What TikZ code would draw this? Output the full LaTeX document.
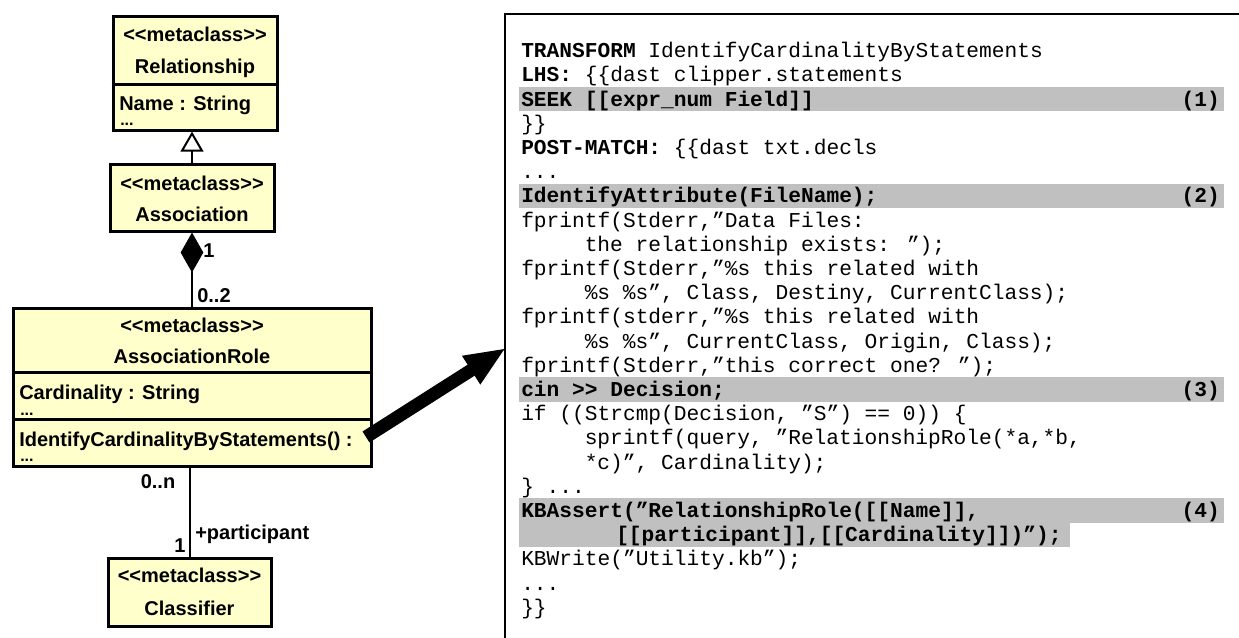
\documentclass[tikz,border=0pt]{standalone}
\usepackage{fontspec}
\setmainfont{Liberation Sans}
\newfontfamily\codefont{Liberation Mono}
\usetikzlibrary{arrows.meta}
\definecolor{umlyellow}{RGB}{255,255,204}
\definecolor{markgray}{RGB}{192,192,192}

\begin{document}
\begin{tikzpicture}[x=0.75pt,y=-0.75pt,
	umlbox/.style={draw,line width=2.25pt,fill=umlyellow,inner sep=0pt},
	umltxt/.style={inner sep=0pt,anchor=base,font=\fontsize{15}{18}\selectfont\bfseries},
	umlleft/.style={umltxt,anchor=base west},
	umldots/.style={inner sep=0pt,anchor=base west,font=\fontsize{12}{14}\selectfont\bfseries},
	compart/.style={line width=2.25pt},
	conn/.style={line width=1.5pt},
	codetxt/.style={inner sep=0pt,anchor=base west,font=\codefont\fontsize{15.9}{18}\selectfont},
	codenum/.style={inner sep=0pt,anchor=base east,font=\codefont\fontsize{15.9}{18}\selectfont\bfseries},
	markbar/.style={fill=markgray},
	bigarrow/.style={line width=9.75pt,-{Triangle[length=31pt,width=23pt]}}
	]
	\useasboundingbox (0,0) rectangle (1239,637);
	\clip (0,0) rectangle (1239,637);

	\node[umlbox,minimum width=123pt,minimum height=85.5pt] (rel) at (195,73) {};
	\node[umlbox,minimum width=123pt,minimum height=50.25pt] (assoc) at (192,197.5) {};
	\node[umlbox,minimum width=268.5pt,minimum height=118.5pt] (role) at (192,387) {};
	\node[umlbox,minimum width=122.25pt,minimum height=51pt] (clf) at (189.5,592) {};
	\draw[compart] (rel.west |- 0,84) -- (rel.east |- 0,84);
	\draw[compart] (role.west |- 0,372) -- (role.east |- 0,372);
	\draw[compart] (role.west |- 0,419) -- (role.east |- 0,419);

	\node[umltxt] (relst) at (195,41.7) {<{}<metaclass>{}>};
	\node[umltxt] (relname) at (195,73.3) {Relationship};
	\node[umlleft] (relattr) at (119,110) {Name : String};
	\node[umldots] (reldots) at (120,125) {...};
	\node[umltxt] (assocst) at (192,190) {<{}<metaclass>{}>};
	\node[umltxt] (assocname) at (192,221.7) {Association};
	\node[umltxt] (rolest) at (192,332) {<{}<metaclass>{}>};
	\node[umltxt] (rolename) at (192,363) {AssociationRole};
	\node[umlleft] (roleattr) at (19,399) {Cardinality : String};
	\node[umldots] (roledots) at (20,415) {...};
	\node[umlleft] (op) at (19,446) {IdentifyCardinalityByStatements() :};
	\node[umldots] (opdots) at (20,461) {...};
	\node[umltxt] (clfst) at (189.5,582) {<{}<metaclass>{}>};
	\node[umltxt] (clfname) at (189.5,615) {Classifier};

	\draw[conn,-{Triangle[open,length=15pt,width=17pt,fill=white]}] (assoc.north) -- (assoc.north |- rel.south);
	\draw[conn,-{Diamond[length=30pt,width=17pt]}] (role.north) -- (assoc.south);
	\draw[conn] (clf.north |- role.south) -- (clf.north);
	\node[umltxt] (mone) at (209,257) {1};
	\node[umlleft] (mtwo) at (197,302) {0..2};
	\node[umltxt] (mmany) at (158,488) {0..n};
	\node[umltxt] (mpart) at (180,552) {1};
	\node[umlleft] (partrole) at (195,539) {+participant};

	\fill[markbar] (519,87.0) rectangle (1224,111.2);
	\fill[markbar] (519,183.8) rectangle (1224,208.0);
	\fill[markbar] (519,377.4) rectangle (1224,401.6);
	\fill[markbar] (519,498.4) rectangle (1224,522.6);
	\fill[markbar] (519,522.6) rectangle (1070,546.8);
	\draw[line width=2pt] (505,14) rectangle (1260,660);

	\node[codetxt] (c0) at (521,57.6) {\textbf{TRANSFORM} IdentifyCardinalityByStatements};
	\node[codetxt] (c1) at (521,81.8) {\textbf{LHS:} \{\{dast clipper.statements};
	\node[codetxt] (c2) at (521,106.0) {\textbf{SEEK [[expr\_num Field]]}};
	\node[codetxt] (c3) at (521,130.2) {\}\}};
	\node[codetxt] (c4) at (521,154.4) {\textbf{POST-MATCH:} \{\{dast txt.decls};
	\node[codetxt] (c5) at (521,178.6) {...};
	\node[codetxt] (c6) at (521,202.8) {\textbf{IdentifyAttribute(FileName);}};
	\node[codetxt] (c7) at (521,227.0) {fprintf(Stderr,”Data Files:};
	\node[codetxt] (c8) at (584.5,251.2) {the relationship exists: ”);};
	\node[codetxt] (c9) at (521,275.4) {fprintf(Stderr,”\%s this related with};
	\node[codetxt] (c10) at (584.5,299.6) {\%s \%s”, Class, Destiny, CurrentClass);};
	\node[codetxt] (c11) at (521,323.8) {fprintf(stderr,”\%s this related with};
	\node[codetxt] (c12) at (584.5,348.0) {\%s \%s”, CurrentClass, Origin, Class);};
	\node[codetxt] (c13) at (521,372.2) {fprintf(Stderr,”this correct one? ”);};
	\node[codetxt] (c14) at (521,396.4) {\textbf{cin >{}> Decision;}};
	\node[codetxt] (c15) at (521,420.6) {if ((Strcmp(Decision, ”S”) == 0)) \{};
	\node[codetxt] (c16) at (584.5,444.8) {sprintf(query, ”RelationshipRole(*a,*b,};
	\node[codetxt] (c17) at (584.5,469.0) {*c)”, Cardinality);};
	\node[codetxt] (c18) at (521,493.2) {\} ...};
	\node[codetxt] (c19) at (521,517.4) {\textbf{KBAssert(”RelationshipRole([[Name]],}};
	\node[codetxt] (c20) at (616,541.6) {\textbf{[[participant]],[[Cardinality]])”);}};
	\node[codetxt] (c21) at (521,565.8) {KBWrite(”Utility.kb”);};
	\node[codetxt] (c22) at (521,590.0) {...};
	\node[codetxt] (c23) at (521,614.2) {\}\}};
	\node[codenum] (n1) at (1220,106.0) {(1)};
	\node[codenum] (n2) at (1220,202.8) {(2)};
	\node[codenum] (n3) at (1220,396.4) {(3)};
	\node[codenum] (n4) at (1220,517.4) {(4)};

	\coordinate (tail) at (366,437);
	\coordinate (tip) at (506,348);
	\draw[bigarrow] (tail) -- (tip);
\end{tikzpicture}
\end{document}
